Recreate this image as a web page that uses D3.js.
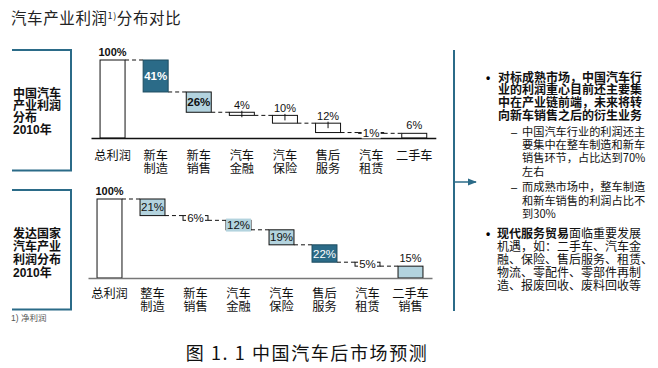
<!DOCTYPE html>
<html><head><meta charset="utf-8">
<script src="https://cdn.jsdelivr.net/npm/d3@7"></script>
<style>
body{margin:0;background:#fff;}
svg text{font-family:"Liberation Sans","Noto Sans CJK SC",sans-serif;}
</style></head><body>
<svg id="c" width="658" height="368"></svg>
<script>
// ---- data ----
const categories1 = ["总利润","新车\n制造","新车\n销售","汽车\n金融","汽车\n保险","售后\n服务","汽车\n租赁","二手车"];
const values1 = [100,41,26,4,10,12,1,6];
const kinds1 = ["total","dark","light","small","small","small","tiny","open"];

const categories2 = ["总利润","整车\n制造","新车\n销售","汽车\n金融","汽车\n保险","售后\n服务","汽车\n租赁","二手车\n销售"];
const values2 = [100,21,6,12,19,22,5,15];
const kinds2 = ["total","light","tiny","light","light","dark","tiny","lightAbove"];

const title = ["汽车产业利润", "1)", "分布对比"];
const sideLabel1 = ["中国汽车","产业利润","分布","2010年"];
const sideLabel2 = ["发达国家","汽车产业","利润分布","2010年"];
const footnote = "1) 净利润";
const caption = "图 1. 1  中国汽车后市场预测";

const bullet1 = ["对标成熟市场，中国汽车行","业的利润重心目前还主要集","中在产业链前端，未来将转","向新车销售之后的衍生业务"];
const sub1 = ["中国汽车行业的利润还主","要集中在整车制造和新车","销售环节，占比达到70%","左右"];
const sub2 = ["而成熟市场中，整车制造","和新车销售的利润占比不","到30%"];
const bullet2Bold = "现代服务贸易";
const bullet2 = ["面临重要发展","机遇，如：二手车、汽车金","融、保险、售后服务、租赁、","物流、零配件、零部件再制","造、报废回收、废料回收等"];

// ---- style ----
const DARK = "#2b6b88", LIGHT = "#b3d3de", TEAL = "#2b6b88";
const svg = d3.select("#c");
const cj = '"Noto Sans CJK SC",sans-serif';

// title
const t = svg.append("text").attr("x", 11).attr("y", 24).attr("font-size", 15.5)
  .attr("letter-spacing", 0.6).attr("fill", "#222").style("font-family", cj);
t.append("tspan").text(title[0]);
t.append("tspan").attr("font-size", 9).attr("dy", -5).text(title[1]);
t.append("tspan").attr("dy", 5).text(title[2]);

function drawPanel(cfg){
  const n = cfg.cats.length;
  const x = d3.scaleBand().domain(d3.range(n))
    .range([cfg.x0, cfg.x0 + cfg.step*n]).paddingInner(0.42).paddingOuter(0.21);
  const y = d3.scaleLinear().domain([0,100]).range([cfg.yBase, cfg.yTop]);
  const bw = x.bandwidth();
  let run = cfg.vals[0];
  const bars = cfg.vals.map((v,i)=>{
    if(i===0) return {i, v, lo:0, hi:v, kind:cfg.kinds[i]};
    const hi = run; run -= v; return {i, v, lo:run, hi, kind:cfg.kinds[i]};
  });
  const g = svg.append("g");

  // connectors
  for(let i=0;i<n-1;i++){
    const lvl = i===0 ? bars[0].hi : bars[i].lo;
    g.append("line").attr("x1", x(i)+bw).attr("x2", x(i+1))
      .attr("y1", y(lvl)).attr("y2", y(lvl))
      .attr("stroke", "#111").attr("stroke-width", 1).attr("stroke-dasharray", "4,3");
  }

  const fillOf = k => k==="dark" ? DARK : (k==="light"||k==="lightAbove") ? LIGHT : "#fff";
  // bars
  g.selectAll("rect.bar").data(bars).join("rect").attr("class","bar")
    .attr("x", d=>x(d.i)).attr("width", bw)
    .attr("y", d=>y(d.hi)).attr("height", d=>Math.max(0.8, y(d.lo)-y(d.hi)))
    .attr("fill", d=>fillOf(d.kind))
    .attr("stroke", d=>d.kind==="dark" ? "#1d4c60" : "#111").attr("stroke-width", 1);

  // axis (baseline + category labels)
  const ax = g.append("g").attr("transform", `translate(0,${cfg.yBase})`)
    .call(d3.axisBottom(x).tickSize(0).tickSizeOuter(0).tickFormat(""));
  ax.select(".domain").attr("stroke", cfg.axisColor).attr("stroke-width", cfg.axisWidth);
  ax.selectAll(".tick text").each(function(d){
    const el = d3.select(this).attr("y", null).attr("dy", null)
      .attr("font-size", 12.2).attr("fill", "#111")
      .style("font-family", cj);
    cfg.cats[d].split("\n").forEach((s,k)=>{
      el.append("tspan").attr("x", 0).attr("y", cfg.labelDy + k*12.5).text(s);
    });
  });

  // value labels
  bars.forEach(d=>{
    const cx = x(d.i)+bw/2, top = y(d.hi), bot = y(d.lo), mid = (top+bot)/2;
    const lab = d.v + "%";
    if(d.kind==="total"){
      g.append("text").attr("x", cx).attr("y", top-4).attr("text-anchor","middle")
        .attr("font-size", 11).attr("font-weight","bold").attr("fill","#111").text(lab);
    } else if(d.kind==="dark" || d.kind==="light"){
      const h = Math.max(bot-top, 13);
      if(bot-top < 13){
        g.append("rect").attr("x", x(d.i)).attr("width", bw).attr("y", mid-h/2).attr("height", h)
          .attr("fill", fillOf(d.kind));
      }
      g.append("text").attr("x", cx).attr("y", mid).attr("dy","0.36em").attr("text-anchor","middle")
        .attr("font-size", 11.5).attr("font-weight", cfg.insideBold ? "bold" : "normal")
        .attr("fill", d.kind==="dark" ? "#fff" : "#111").text(lab);
    } else if(d.kind==="small"){
      g.append("line").attr("x1", cx).attr("x2", cx).attr("y1", top-1.5).attr("y2", top+5)
        .attr("stroke","#111");
      g.append("text").attr("x", cx).attr("y", top-3).attr("text-anchor","middle")
        .attr("font-size", 11).attr("fill","#111").text(lab);
    } else if(d.kind==="tiny"){
      g.append("rect").attr("x", x(d.i)+3).attr("width", bw-6).attr("y", mid-5.5).attr("height", 11)
        .attr("fill","#fff");
      g.append("text").attr("x", cx).attr("y", mid).attr("dy","0.36em").attr("text-anchor","middle")
        .attr("font-size", 11.5).attr("fill","#111").text(lab);
    } else {
      g.append("text").attr("x", cx).attr("y", top-4).attr("text-anchor","middle")
        .attr("font-size", 11).attr("fill","#111").text(lab);
    }
  });
}

drawPanel({cats:categories1, vals:values1, kinds:kinds1, x0:91, step:43.1, yBase:138, yTop:60,
  axisColor:"#111", axisWidth:1.3, labelDy:22, insideBold:true});
drawPanel({cats:categories2, vals:values2, kinds:kinds2, x0:88, step:43, yBase:278, yTop:199,
  axisColor:"#777", axisWidth:1.3, labelDy:20, insideBold:false});

// side brackets
function bracket(y0, y1, lines, firstBase, lh){
  svg.append("path").attr("d", `M12,${y0}H71V${y1}H12`).attr("fill","none")
    .attr("stroke", TEAL).attr("stroke-width", 2);
  const tx = svg.append("text").attr("font-size", 12).attr("font-weight","bold").attr("fill","#111");
  lines.forEach((s,k)=> tx.append("tspan").attr("x", 13).attr("y", firstBase + k*lh).text(s));
}
bracket(50, 170.5, sideLabel1, 97.5, 12);
bracket(190, 309.5, sideLabel2, 237.5, 13);

svg.append("text").attr("x", 11).attr("y", 321).attr("font-size", 8.5).attr("fill","#555").text(footnote);

// right panel
svg.append("line").attr("x1",454).attr("x2",454).attr("y1",50).attr("y2",311)
  .attr("stroke", TEAL).attr("stroke-width", 2);
svg.append("defs").append("marker").attr("id","ah").attr("viewBox","0 0 10 10")
  .attr("refX",9).attr("refY",5).attr("markerWidth",6).attr("markerHeight",6).attr("orient","auto")
  .append("path").attr("d","M0,1L10,5L0,9Z").attr("fill", TEAL);
svg.append("line").attr("x1",455).attr("x2",476).attr("y1",182).attr("y2",182)
  .attr("stroke", TEAL).attr("stroke-width", 1.5).attr("marker-end","url(#ah)");

svg.append("text").attr("x",486).attr("y",82).attr("font-size",12).attr("font-weight","bold").text("•");
const b1 = svg.append("text").attr("font-size",12).attr("font-weight","bold").attr("fill","#111").style("font-family",cj);
bullet1.forEach((s,k)=> b1.append("tspan").attr("x",498).attr("y",81.5+k*12.7).text(s));

svg.append("text").attr("x",511).attr("y",136).attr("font-size",11).text("–");
const s1 = svg.append("text").attr("font-size",11.2).attr("fill","#111").style("font-family",cj);
sub1.forEach((s,k)=> s1.append("tspan").attr("x",522).attr("y",136+k*13.2).text(s));

svg.append("text").attr("x",511).attr("y",191).attr("font-size",11).text("–");
const s2 = svg.append("text").attr("font-size",11.2).attr("fill","#111").style("font-family",cj);
sub2.forEach((s,k)=> s2.append("tspan").attr("x",522).attr("y",191+k*13.5).text(s));

svg.append("text").attr("x",486).attr("y",238).attr("font-size",12).attr("font-weight","bold").text("•");
const b2 = svg.append("text").attr("font-size",12).attr("fill","#111").style("font-family",cj);
b2.append("tspan").attr("x",497).attr("y",237.5).attr("font-weight","bold").text(bullet2Bold);
b2.append("tspan").text(bullet2[0]);
bullet2.slice(1).forEach((s,k)=> b2.append("tspan").attr("x",497).attr("y",237.5+(k+1)*13).text(s));

// caption
svg.append("text").attr("x",307).attr("y",360).attr("text-anchor","middle")
  .attr("font-size",18).attr("letter-spacing",1.6).attr("fill","#111").style("font-family",cj).text(caption);
</script>
</body></html>
